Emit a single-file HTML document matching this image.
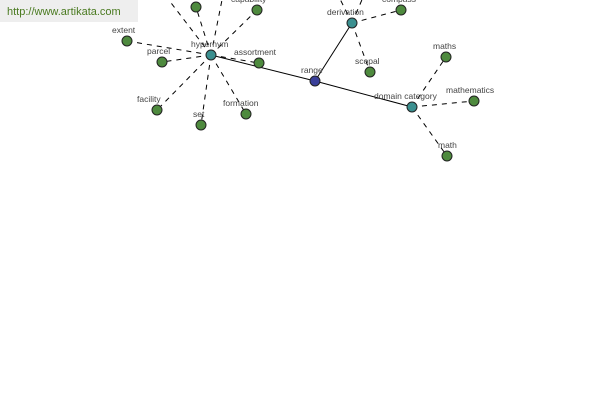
<!DOCTYPE html><html><head><style>body{margin:0;background:#fff}svg{display:block}text{font-family:"Liberation Sans",sans-serif;font-size:8.5px;fill:#444}</style></head><body>
<svg width="600" height="400" viewBox="0 0 600 400">
<rect x="0" y="0" width="138" height="22" fill="#eeeeee"/>
<text x="7" y="15" style="font-size:11px;fill:#4a7a20">http://www.artikata.com</text>
<g stroke="#000" stroke-width="1" stroke-dasharray="5,5">
<line x1="211" y1="55" x2="165" y2="-5"/><line x1="211" y1="55" x2="196" y2="7"/><line x1="211" y1="55" x2="223" y2="-5"/>
<line x1="211" y1="55" x2="257" y2="10"/><line x1="211" y1="55" x2="127" y2="41"/><line x1="211" y1="55" x2="162" y2="62"/>
<line x1="211" y1="55" x2="259" y2="63"/><line x1="211" y1="55" x2="157" y2="110"/><line x1="211" y1="55" x2="201" y2="125"/>
<line x1="211" y1="55" x2="246" y2="114"/>
<line x1="352" y1="23" x2="338" y2="-5"/><line x1="352" y1="23" x2="364" y2="-5"/><line x1="352" y1="23" x2="401" y2="10"/><line x1="352" y1="23" x2="370" y2="72"/>
<line x1="412" y1="107" x2="446" y2="57"/><line x1="412" y1="107" x2="474" y2="101"/><line x1="412" y1="107" x2="447" y2="156"/>
</g>
<g stroke="#000" stroke-width="1">
<line x1="211" y1="55" x2="315" y2="81"/><line x1="315" y1="81" x2="352" y2="23"/><line x1="315" y1="81" x2="412" y2="107"/>
</g>
<g stroke="#222" stroke-width="1" fill="#4e8a3e">
<circle cx="196" cy="7" r="5"/><circle cx="257" cy="10" r="5"/><circle cx="127" cy="41" r="5"/><circle cx="162" cy="62" r="5"/><circle cx="259" cy="63" r="5"/><circle cx="157" cy="110" r="5"/><circle cx="201" cy="125" r="5"/><circle cx="246" cy="114" r="5"/><circle cx="401" cy="10" r="5"/><circle cx="370" cy="72" r="5"/><circle cx="446" cy="57" r="5"/><circle cx="474" cy="101" r="5"/><circle cx="447" cy="156" r="5"/>
</g>
<g stroke="#222" stroke-width="1" fill="#3a8f8f">
<circle cx="211" cy="55" r="5"/><circle cx="352" cy="23" r="5"/><circle cx="412" cy="107" r="5"/>
</g>
<circle cx="315" cy="81" r="5" fill="#3a3f99" stroke="#222"/>
<text x="231" y="2">capability</text><text x="382" y="2">compass</text>
<text x="112" y="33">extent</text><text x="147" y="54">parcel</text><text x="191" y="47">hypernym</text><text x="234" y="55">assortment</text>
<text x="137" y="102">facility</text><text x="193" y="117">set</text><text x="223" y="106">formation</text>
<text x="327" y="15">derivation</text><text x="355" y="64">scopal</text><text x="301" y="73">range</text>
<text x="433" y="49">maths</text><text x="446" y="93">mathematics</text><text x="374" y="99">domain category</text><text x="438" y="148">math</text>
</svg></body></html>
